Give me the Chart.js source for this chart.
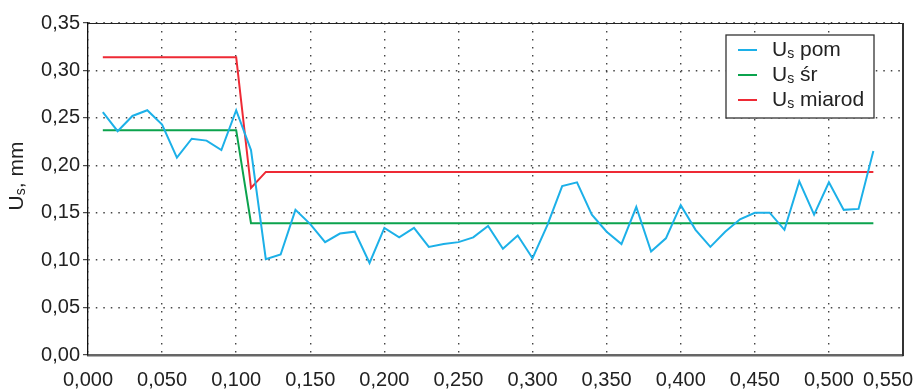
<!DOCTYPE html>
<html>
<head>
<meta charset="utf-8">
<script src="https://cdn.jsdelivr.net/npm/chart.js@4"></script>
<style>
  html, body { margin: 0; padding: 0; background: #fff; }
  #wrap { width: 919px; height: 389px; }
</style>
</head>
<body>
<div id="wrap"><canvas id="c" width="919" height="389"></canvas></div>
<script>
const FONT = '"Liberation Sans", Arial, sans-serif';

// x positions of measurements (mm)
const xPom = [0.01, 0.02, 0.03, 0.04, 0.05, 0.06, 0.07, 0.08, 0.09, 0.10,
  0.11, 0.12, 0.13, 0.14, 0.15, 0.16, 0.17, 0.18, 0.19, 0.20,
  0.21, 0.22, 0.23, 0.24, 0.25, 0.26, 0.27, 0.28, 0.29, 0.30,
  0.31, 0.32, 0.33, 0.34, 0.35, 0.36, 0.37, 0.38, 0.39, 0.40,
  0.41, 0.42, 0.43, 0.44, 0.45, 0.46, 0.47, 0.48, 0.49, 0.50,
  0.51, 0.52, 0.53];
const usPom = [0.256, 0.236, 0.252, 0.258, 0.243, 0.208, 0.228, 0.226, 0.216, 0.258,
  0.216, 0.101, 0.106, 0.153, 0.138, 0.119, 0.128, 0.130, 0.097, 0.134,
  0.124, 0.134, 0.114, 0.117, 0.119, 0.124, 0.136, 0.112, 0.126, 0.102,
  0.137, 0.178, 0.182, 0.148, 0.130, 0.117, 0.156, 0.109, 0.123, 0.158,
  0.132, 0.114, 0.130, 0.143, 0.150, 0.150, 0.132, 0.183, 0.148, 0.182,
  0.153, 0.154, 0.215];

const xSr = [0.01, 0.10, 0.11, 0.53];
const usSr = [0.237, 0.237, 0.139, 0.139];

const xMiarod = [0.01, 0.10, 0.11, 0.12, 0.53];
const usMiarod = [0.314, 0.314, 0.176, 0.193, 0.193];

const seriesNames = ["pom", "śr", "miarod"];
const seriesColors = ["#1cb0e8", "#0ba34d", "#ee2a35"];

const xTickStep = 0.05, xMax = 0.55;
const yTickStep = 0.05, yMax = 0.35;

const toPts = (xs, ys) => xs.map((x, i) => ({ x, y: ys[i] }));
const comma = (v, d) => v.toFixed(d).replace(".", ",");

// text with subscript "s" after the U
function drawSubText(ctx, x, y, rest, size) {
  ctx.font = `${size}px ${FONT}`;
  ctx.fillText("U", x, y);
  x += ctx.measureText("U").width;
  ctx.font = `${Math.round(size * 0.68)}px ${FONT}`;
  ctx.fillText("s", x, y + size * 0.22);
  x += ctx.measureText("s").width;
  ctx.font = `${size}px ${FONT}`;
  ctx.fillText(rest, x, y);
}
function subTextWidth(ctx, rest, size) {
  ctx.font = `${size}px ${FONT}`;
  let w = ctx.measureText("U").width + ctx.measureText(rest).width;
  ctx.font = `${Math.round(size * 0.68)}px ${FONT}`;
  return w + ctx.measureText("s").width;
}

const extras = {
  id: "extras",
  afterDraw(chart) {
    const { ctx, chartArea: a } = chart;
    ctx.save();
    // top and right frame
    ctx.strokeStyle = "#222";
    ctx.lineWidth = 1.2;
    ctx.beginPath();
    ctx.moveTo(a.left, a.top + 0.5);
    ctx.lineTo(a.right, a.top + 0.5);
    ctx.stroke();
    ctx.strokeStyle = "#333";
    ctx.lineWidth = 2;
    ctx.beginPath();
    ctx.moveTo(a.right, a.top);
    ctx.lineTo(a.right, a.bottom + 1);
    ctx.stroke();

    // x tick labels, last one kept inside the canvas
    const xs = chart.scales.x;
    ctx.fillStyle = "#222";
    ctx.font = `20px ${FONT}`;
    ctx.textAlign = "center";
    ctx.textBaseline = "middle";
    xs.ticks.forEach((t) => {
      const s = comma(t.value, 3);
      const w = ctx.measureText(s).width;
      let px = xs.getPixelForValue(t.value);
      if (px + w / 2 > chart.width - 6) px = chart.width - 6 - w / 2;
      ctx.fillText(s, px, a.bottom + 25);
    });

    // y axis title
    ctx.save();
    ctx.translate(17, 176);
    ctx.rotate(-Math.PI / 2);
    ctx.textAlign = "left";
    ctx.textBaseline = "middle";
    const tw = subTextWidth(ctx, ", mm", 21);
    drawSubText(ctx, -tw / 2, 0, ", mm", 21);
    ctx.restore();

    // legend
    const bx = a.right - 177, by = a.top + 12, bw = 148, bh = 83;
    ctx.fillStyle = "#fff";
    ctx.fillRect(bx, by, bw, bh);
    ctx.strokeStyle = "#333";
    ctx.lineWidth = 1.3;
    ctx.strokeRect(bx, by, bw, bh);
    ctx.textAlign = "left";
    ctx.textBaseline = "middle";
    chart.data.datasets.forEach((ds, i) => {
      const ry = by + 15 + i * 25;
      ctx.strokeStyle = ds.borderColor;
      ctx.lineWidth = 2;
      ctx.beginPath();
      ctx.moveTo(bx + 12, ry);
      ctx.lineTo(bx + 31, ry);
      ctx.stroke();
      ctx.fillStyle = "#222";
      drawSubText(ctx, bx + 46, ry, " " + seriesNames[i], 21);
    });
    ctx.restore();
  },
};

new Chart(document.getElementById("c"), {
  type: "line",
  data: {
    datasets: [
      { label: "Us pom", data: toPts(xPom, usPom), borderColor: seriesColors[0] },
      { label: "Us śr", data: toPts(xSr, usSr), borderColor: seriesColors[1] },
      { label: "Us miarod", data: toPts(xMiarod, usMiarod), borderColor: seriesColors[2] },
    ],
  },
  options: {
    responsive: false, animation: false, devicePixelRatio: 1,
    layout: { padding: { left: 0, right: 16, top: 23, bottom: 0 } },
    elements: {
      line: { borderWidth: 2, tension: 0, fill: false },
      point: { radius: 0 },
    },
    scales: {
      x: {
        type: "linear", min: 0, max: xMax,
        ticks: { stepSize: xTickStep, display: false },
        grid: { color: "#444", lineWidth: 1.4, drawTicks: false },
        border: { color: "#666", width: 2.5, dash: [1.5, 6.5] },
        afterFit(s) { s.height = 34; s.paddingLeft = 0; s.paddingRight = 0; },
      },
      y: {
        min: 0, max: yMax,
        ticks: {
          stepSize: yTickStep, color: "#222", padding: 3,
          font: { family: FONT, size: 20 },
          callback: (v) => comma(v, 2),
        },
        grid: {
          color: "#444", lineWidth: 1.4,
          tickLength: 5, tickColor: "#222", tickBorderDash: [], tickWidth: 1,
        },
        border: { color: "#111", width: 1.3, dash: [1.5, 6] },
        afterFit(s) { s.width = 88; s.paddingTop = 0; s.paddingBottom = 0; },
      },
    },
    plugins: { legend: { display: false }, tooltip: { enabled: false } },
  },
  plugins: [extras],
});
</script>
</body>
</html>
